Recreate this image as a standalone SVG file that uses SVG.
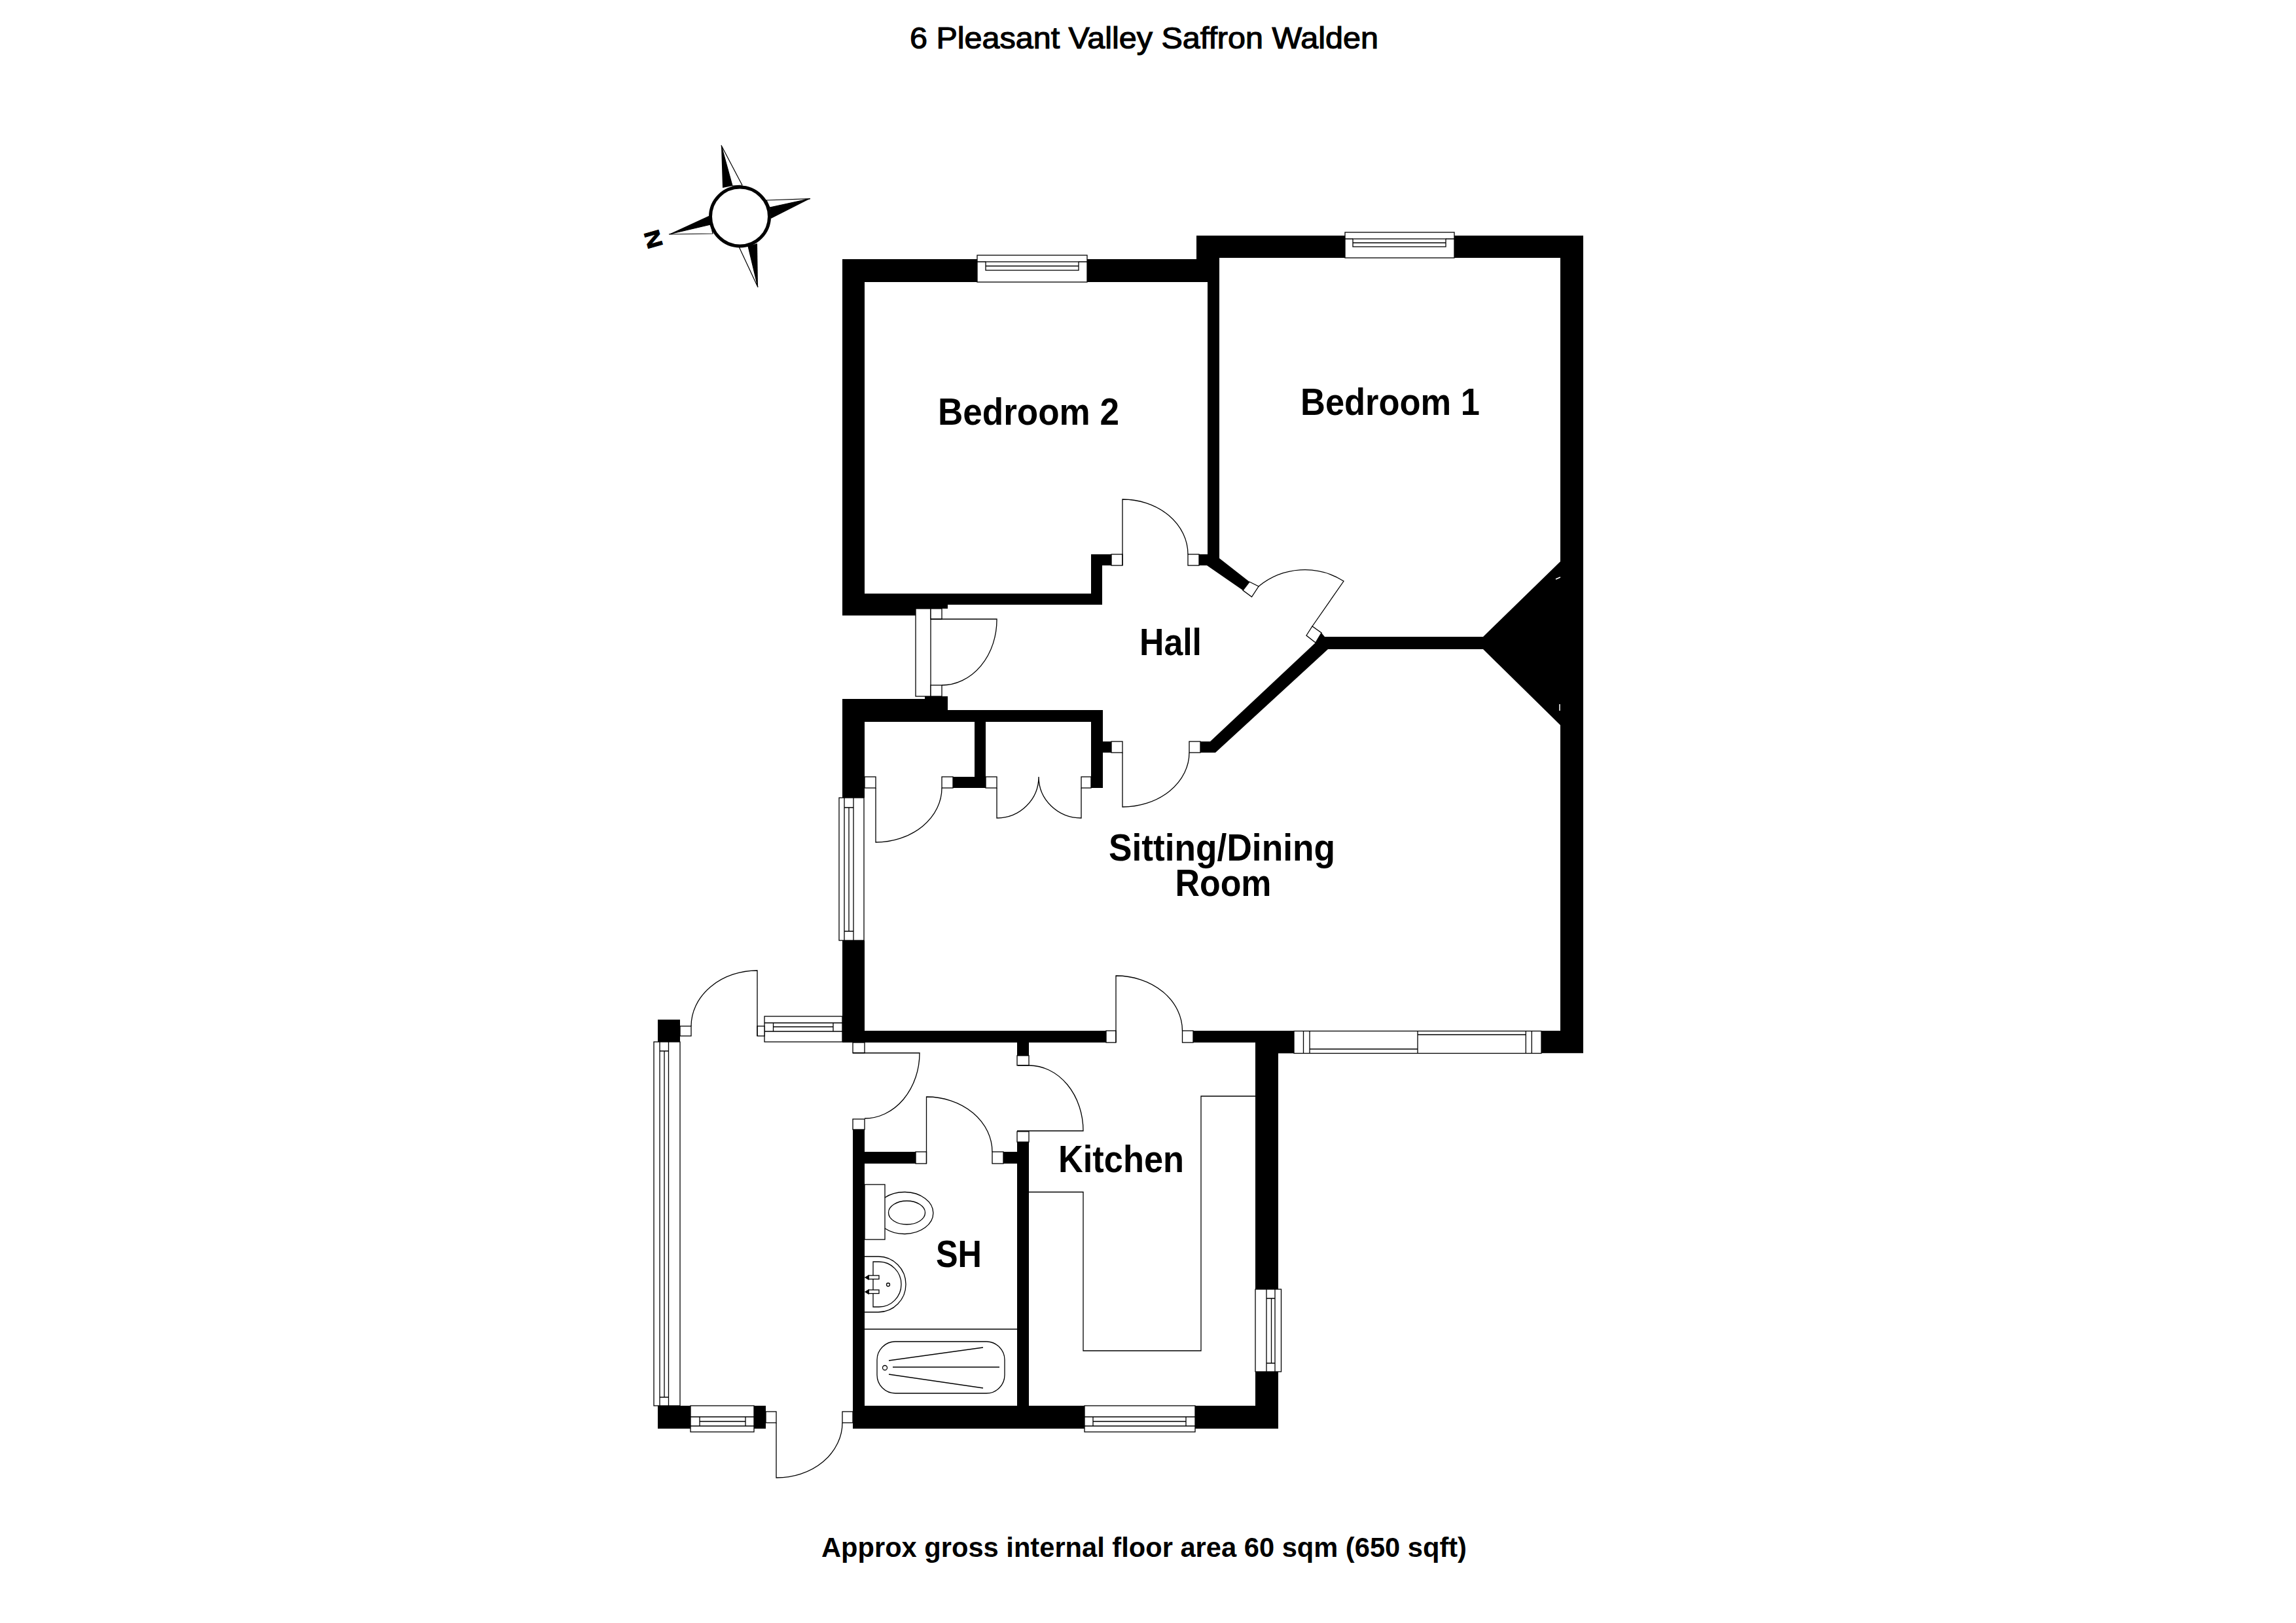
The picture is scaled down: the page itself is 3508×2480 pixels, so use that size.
<svg xmlns="http://www.w3.org/2000/svg" width="3508" height="2480" viewBox="0 0 3508 2480">
<style>
text{font-family:"Liberation Sans",Arial,sans-serif;font-weight:700;fill:#000;text-anchor:middle}
.r{font-size:57px}
.w{fill:#000;stroke:none}
.l{fill:none;stroke:#000;stroke-width:1.3}
.f{fill:#fff;stroke:#000;stroke-width:1.3}
</style>
<rect width="3508" height="2480" fill="#fff"/>
<g id="walls" class="w">
<path d="M1287,396H1493V431H1321V907H1667V847H1698V864H1684V924H1448V930H1399V940.500H1287Z"/>
<path d="M1661,396H1828V360H2055V394H1863V853L1909,889L1899,902L1844,864H1832V847H1845V431H1661Z"/>
<path d="M2222,360H2419V1609.300H2355V1575H2384V1108L2266,992H2029L1857,1150H1834V1133H1849L2011,981L2019,967L2024,973H2266L2384,858V394H2222Z"/>
<path d="M1287,1068H1413V1064H1448V1085H1685V1133H1698V1150H1685V1204H1667V1103H1506V1204H1456V1187H1489V1103H1321V1219H1287Z"/>
<path d="M1287,1437H1321V1575H1690V1593H1287Z"/>
<path d="M1823,1575H1977V1609.500H1953V1970H1918V1593H1823Z"/>
<path d="M1303,1726H1321V1760H1399V1778H1321V2148H1554V1745H1572V2148H1657V2183H1303Z"/>
<rect x="1533" y="1760" width="21" height="18"/>
<rect x="1554" y="1593" width="18" height="20"/>
<path d="M1918,2096H1953V2183H1826V2148H1918Z"/>
<rect x="1005" y="1558" width="34" height="34"/>
<rect x="1005" y="2148" width="50" height="35"/>
<rect x="1152" y="2148" width="18" height="35"/>
</g>
<g id="chimney-marks" fill="none" stroke="#fff" stroke-width="1.5">
<path d="M2377,885L2384,882"/>
<path d="M2383,1076V1086"/>
</g>
<g id="windows">
<g id="window-bedroom2">
<rect class="f" x="1493" y="390" width="168" height="41"/>
<rect class="f" x="1506" y="400" width="142" height="13"/>
<path class="l" d="M1493,400H1506M1648,400H1661M1506,406.500H1648"/>
</g>
<g id="window-bedroom1">
<rect class="f" x="2055" y="355" width="167" height="39"/>
<rect class="f" x="2067" y="365" width="142" height="12"/>
<path class="l" d="M2055,365H2067M2209,365H2222M2067,371H2209"/>
</g>
<g id="window-sitting-west">
<rect class="f" x="1282" y="1219" width="38" height="218"/>
<path class="l" d="M1290,1219V1437M1304,1219V1437M1290,1234H1304M1290,1423H1304M1297,1234V1423"/>
</g>
<g id="window-sitting-south">
<rect class="f" x="1977" y="1575.500" width="378" height="34"/>
<path class="l" d="M1991.500,1575.500V1609.500M2001,1575.500V1609.500M2166,1575.500V1609.500M2331.300,1575.500V1609.500M2340.300,1575.500V1609.500M2001,1603H2166M2166,1581H2331.300"/>
</g>
<g id="window-kitchen-east">
<rect class="f" x="1918" y="1970" width="39.500" height="126"/>
<path class="l" d="M1935,1970V2096M1948,1970V2096M1935,1984H1948M1935,2083H1948M1942.500,1984V2083"/>
</g>
<g id="window-kitchen-south">
<rect class="f" x="1657" y="2148" width="169" height="40"/>
<path class="l" d="M1657,2165H1826M1657,2179H1826M1670,2165V2179M1812,2165V2179M1670,2172H1812"/>
</g>
<g id="window-porch-west">
<rect class="f" x="999" y="1592" width="40" height="556"/>
<path class="l" d="M1008,1592V2148M1021.500,1592V2148M1008,1606H1021.500M1008,2135H1021.500M1015,1606V2135"/>
</g>
<g id="window-porch-north">
<rect class="f" x="1168" y="1553" width="119" height="39"/>
<path class="l" d="M1168,1563H1287M1168,1576H1287M1181.500,1563V1576M1273,1563V1576M1181.500,1569H1273"/>
</g>
<g id="window-porch-south">
<rect class="f" x="1055" y="2148" width="97" height="40"/>
<path class="l" d="M1055,2165H1152M1055,2179H1152M1069,2165V2179M1139,2165V2179M1069,2172H1139"/>
</g>
<g id="window-hall">
<rect class="f" x="1399" y="930" width="23" height="134"/>
</g>
</g>
<g id="doors">
<g id="jambs" class="f">
<rect x="1698" y="847" width="17" height="17"/>
<rect x="1815" y="847" width="17" height="17"/>
<polygon points="1909,889 1923,896 1912.500,912 1899,902"/>
<polygon points="1996,971 2005,957 2019,967 2010,982"/>
<rect x="1422" y="930" width="17" height="16"/>
<rect x="1422" y="1047" width="17" height="17"/>
<rect x="1698" y="1133" width="17" height="17"/>
<rect x="1817" y="1133" width="17" height="17"/>
<rect x="1321" y="1187" width="17" height="17"/>
<rect x="1439" y="1187" width="17" height="17"/>
<rect x="1506" y="1187" width="17" height="17"/>
<rect x="1652" y="1187" width="15" height="17"/>
<rect x="1690" y="1575" width="15" height="18"/>
<rect x="1806.500" y="1575" width="16.500" height="18"/>
<rect x="1303" y="1593" width="18" height="16"/>
<rect x="1303" y="1710" width="18" height="16"/>
<rect x="1554" y="1613" width="18" height="15"/>
<rect x="1554" y="1729" width="18" height="16"/>
<rect x="1399" y="1760" width="16.500" height="18"/>
<rect x="1516" y="1760" width="17" height="18"/>
<rect x="1039" y="1568" width="17" height="15"/>
<rect x="1157" y="1568" width="11" height="15"/>
<rect x="1170" y="2157" width="16" height="17"/>
<rect x="1287" y="2157" width="16" height="17"/>
</g>
<g id="swings" class="l">
<path d="M1715,864V763A100,84 0 0 1 1815,847"/>
<path d="M1923,896A111,111 0 0 1 2053,888L2005,957"/>
<path d="M1422,946H1523A84,100 0 0 1 1439,1047"/>
<path d="M1715,1150V1233A102,83 0 0 0 1817,1150"/>
<path d="M1338,1204V1287A101,83 0 0 0 1439,1204"/>
<path d="M1523,1204V1250A64,63 0 0 0 1587,1187A65,63 0 0 0 1652,1250V1204"/>
<path d="M1705,1593V1491A101,84 0 0 1 1806.500,1575"/>
<path d="M1303,1609H1405A84,100 0 0 1 1321,1709"/>
<path d="M1555,1628H1572A83,100 0 0 1 1655,1728H1554"/>
<path d="M1415.500,1778V1676A100,84 0 0 1 1516,1760"/>
<path d="M1157,1583V1483A101,85 0 0 0 1056,1568"/>
<path d="M1186,2174V2258A100,84 0 0 0 1287,2174"/>
</g>
</g>
<g id="fittings" class="l">
<path id="kitchen-counter" d="M1918,1675H1835V2064H1655V1821.500H1572"/>
<g id="toilet">
<rect x="1321" y="1810" width="31" height="84"/>
<path d="M1352,1830A44,32 0 1 1 1352,1877"/>
<ellipse cx="1385.500" cy="1853" rx="28" ry="18"/>
</g>
<g id="basin">
<path d="M1321,1920H1342A42,42.500 0 0 1 1342,2005H1321"/>
<path d="M1334,1928H1343A34,34.500 0 0 1 1343,1997H1334Z"/>
<rect x="1327" y="1949" width="16" height="5.500" fill="#fff"/>
<rect x="1327" y="1971" width="16" height="5.500" fill="#fff"/>
<path d="M1327,1949L1322,1952L1327,1955ZM1327,1971L1322,1974L1327,1977Z" fill="#000"/>
<circle cx="1357" cy="1963" r="2.500"/>
</g>
<g id="bath">
<path d="M1321,2031H1554"/>
<rect x="1340" y="2050" width="195" height="79" rx="28" ry="28"/>
<path d="M1358,2079L1502,2059M1364,2089H1527M1358,2100L1502,2121"/>
<circle cx="1352" cy="2090" r="3.500"/>
</g>
</g>
<g id="compass">
<path d="M1102,222L1134,283L1119,284Z" fill="#fff" stroke="#000" stroke-width="1.200"/>
<path d="M1102,222L1104,287L1119,284Z" fill="#000"/>
<path d="M1238,303.600L1171,306L1176,317Z" fill="#fff" stroke="#000" stroke-width="1.200"/>
<path d="M1238,303.600L1176,317L1178,334Z" fill="#000"/>
<path d="M1158,439L1129,377L1143,376Z" fill="#fff" stroke="#000" stroke-width="1.200"/>
<path d="M1158,439L1143,376L1157,372Z" fill="#000"/>
<path d="M1022,358L1089,357L1086,343Z" fill="#fff" stroke="#000" stroke-width="1.200"/>
<path d="M1022,358L1085,329L1086,343Z" fill="#000"/>
<circle cx="1130.500" cy="331" r="45" fill="#fff" stroke="#000" stroke-width="5"/>
<text x="997.500" y="365.500" transform="rotate(-106 997.500 365.500)" dy="12" style="font-size:33px;stroke:#000;stroke-width:1" textLength="28" lengthAdjust="spacingAndGlyphs">N</text>
</g>
<g id="labels">
<text class="r" x="1571.500" y="649" textLength="277" lengthAdjust="spacingAndGlyphs">Bedroom 2</text>
<text class="r" x="2124" y="634" textLength="274" lengthAdjust="spacingAndGlyphs">Bedroom 1</text>
<text class="r" x="1788.500" y="1001" textLength="95" lengthAdjust="spacingAndGlyphs">Hall</text>
<text class="r" x="1867" y="1315" textLength="346" lengthAdjust="spacingAndGlyphs">Sitting/Dining</text>
<text class="r" x="1869" y="1369" textLength="147" lengthAdjust="spacingAndGlyphs">Room</text>
<text class="r" x="1713" y="1791" textLength="192" lengthAdjust="spacingAndGlyphs">Kitchen</text>
<text class="r" x="1465" y="1936" textLength="70" lengthAdjust="spacingAndGlyphs">SH</text>
<text x="1748" y="74" style="font-size:46px;stroke:#000;stroke-width:1.200;font-weight:400" textLength="716" lengthAdjust="spacingAndGlyphs">6 Pleasant Valley Saffron Walden</text>
<text x="1748" y="2379" style="font-size:42px" textLength="986" lengthAdjust="spacingAndGlyphs">Approx gross internal floor area 60 sqm (650 sqft)</text>
</g>
</svg>
